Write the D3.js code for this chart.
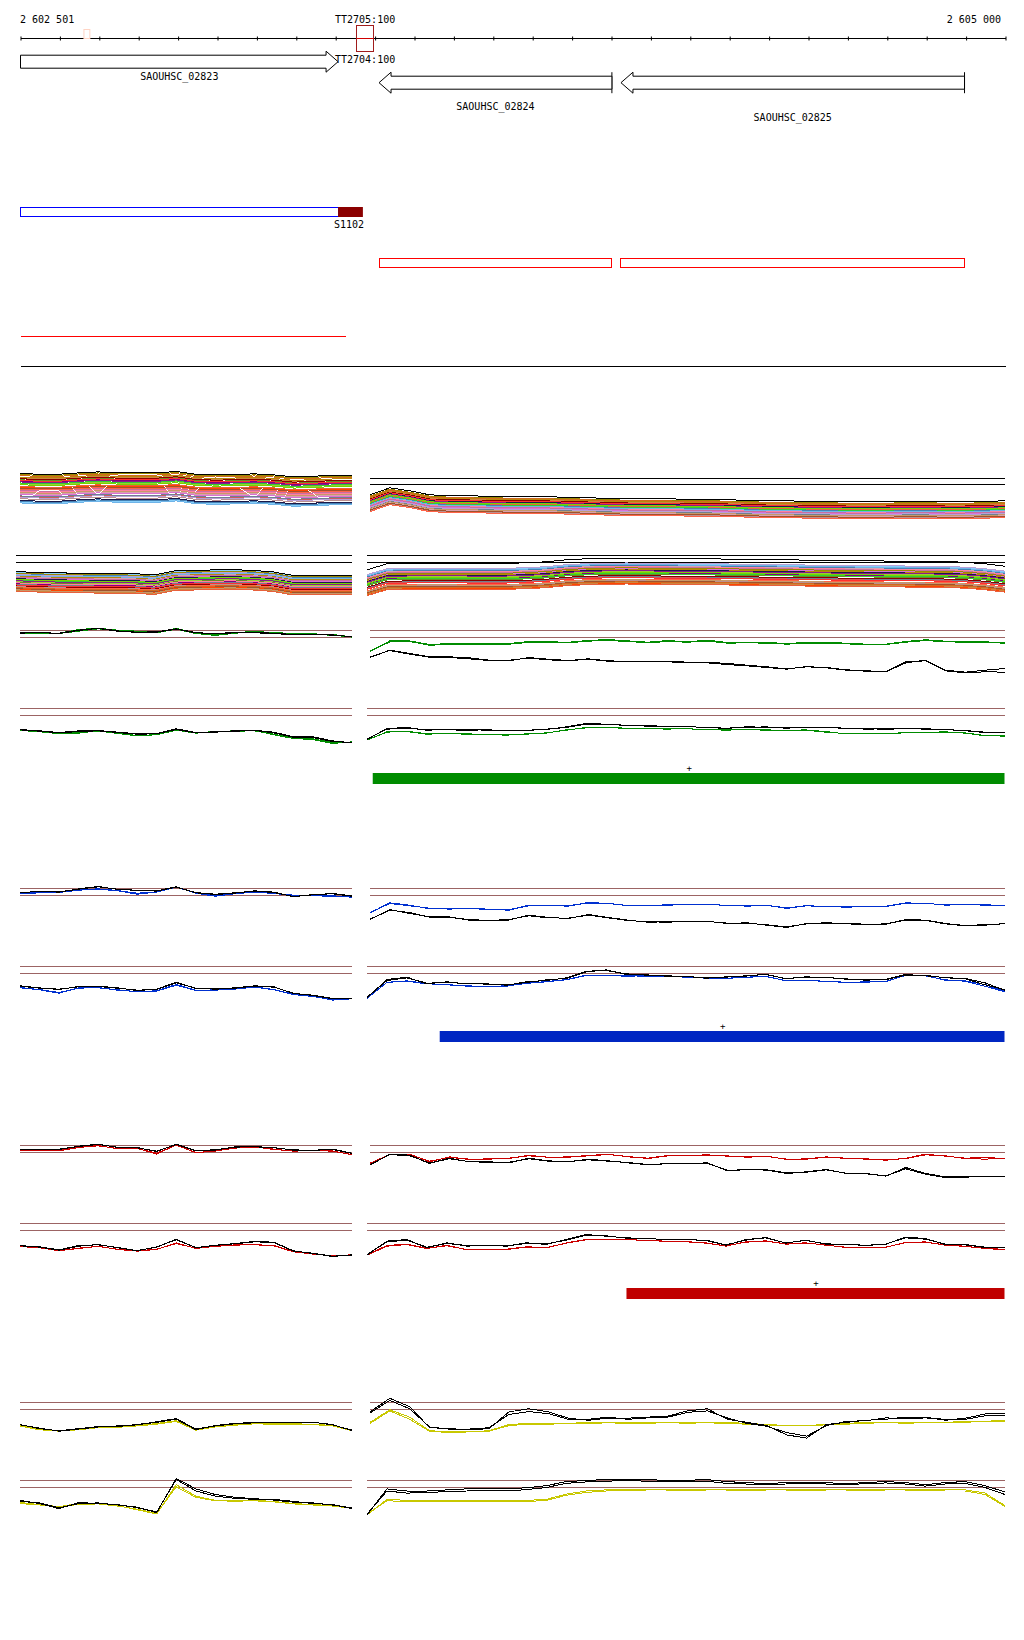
<!DOCTYPE html>
<html>
<head>
<meta charset="utf-8">
<script src="https://cdn.jsdelivr.net/npm/d3@7"></script>
<style>
  body { margin: 0; background: #fff; }
  svg text { font-family: "DejaVu Sans Mono", monospace; font-size: 10px; fill: #000; }
  path.trace, path.band, line.ref { fill: none; shape-rendering: crispEdges; }
</style>
</head>
<body>
<svg id="chart" width="1024" height="1640"></svg>
<script>
// ---- genome annotation ----
var region = [2602500, 2605000],
    regionLabels = ["2 602 501", "2 605 000"],
    geneNames = ["SAOUHSC_02823", "SAOUHSC_02824", "SAOUHSC_02825"],
    geneStart = [2602500, 2603410, 2604024],
    geneEnd = [2603306, 2604001, 2604896],
    geneStrand = ["+", "-", "-"],
    termNames = ["TT2705:100", "TT2704:100"],
    termSpan = [2603354, 2603395],
    paleSpan = [2602661, 2602676],
    utrSpan = [2602500, 2603306],
    srnaName = "S1102",
    srnaSpan = [2603306, 2603369],
    redBoxes = [[2603410, 2604001], [2604024, 2604896]],
    redLineSpan = [2602500, 2603327],
    barSpans = [[2603394, 2605000], [2603564, 2605000], [2604038, 2605000]],
    barStrand = ["+", "+", "+"];

// ---- multicolour expression bands ----
var mcColours = ["#000000","#d2691e","#9a8a00","#76d400","#ff3030","#c86ea0","#8b1a8b","#6fb4e8","#b8a0d8","#c89868",
                 "#e8603c","#a0522d","#1a1a4a","#ff7fa0","#8b0000","#b8860b","#32cd32","#da70d6","#4682b4","#cd853f",
                 "#ff6347","#9acd32","#708090","#d8a0b0","#6b8e23","#bc8f8f","#ff4500","#800080","#87cefa","#cd5c5c"];
var mcTopLeftProfile = [0.71,0.61,0.61,0.8,0.94,0.8,0.8,0.8,1.0,0.61,0.51,0.57,0.66,0.51,0.23,0.33,0.43,0.43];
var mcTopLeftOffsets = [0,-0.3,-0.15,-1.6,-1.0,-2.4,-1.2,-4.2,-3.4,-2.7,-1.85,-2.1,-3.85,-2.55,-0.75,-0.5,-1.35,-3.0,-4.0,-0.65,
                        -2.25,-1.45,-3.2,-2.85,-0.9,-3.6,-1.95,-1.1,-4.1,-3.3];
var mcTopRightProfile = [-3.53,-2.53,-2.96,-3.53,-3.67,-3.67,-3.74,-3.81,-3.81,-3.81,-3.89,-3.96,-4.03,-4.1,-4.1,-4.1,-4.17,
                         -4.17,-4.24,-4.31,-4.39,-4.39,-4.46,-4.46,-4.53,-4.53,-4.53,-4.46,-4.46,-4.53,-4.53,-4.46,-4.39];
var mcTopRightOffsets = [1.2,0.9,1.0,0.2,0.5,-0.4,0.3,-0.2,-0.6,-0.8,0.1,-1.0,0.4,-0.3,0.6,0.8,0.0,-0.5,-0.1,0.7,
                         -1.2,0.35,-0.7,-0.9,0.55,-1.1,-0.45,0.25,0.05,-0.95];
var mcBottomLeftProfile = [-3.71,-3.81,-3.89,-3.91,-3.96,-3.96,-4.0,-4.17,-3.6,-3.53,-3.46,-3.43,-3.53,-3.74,-4.24,-4.24,-4.24,-4.24];
var mcBottomLeftOffsets = [1.4,-0.9,1.2,0.3,-0.5,0.6,0.1,0.9,1.0,-1.2,-1.4,-1.0,0.4,-0.2,-0.6,0.8,0.2,0.5,1.1,-1.3,
                           -0.8,0.0,-0.4,0.7,-0.1,-0.7,-1.1,-0.3,1.3,0.65];
var mcBottomRightProfile = [-4.24,-3.39,-3.33,-3.3,-3.3,-3.33,-3.33,-3.33,-3.24,-3.1,-2.81,-2.67,-2.6,-2.57,-2.6,-2.64,-2.67,
                            -2.67,-2.71,-2.74,-2.79,-2.81,-2.86,-2.89,-2.93,-2.96,-2.99,-3.0,-3.03,-3.06,-3.17,-3.39,-3.74];
var mcBottomRightOffsets = [2.2,-1.2,0.8,0.2,-0.6,0.9,0.4,1.3,1.5,-0.9,-1.5,-1.1,0.5,1.0,-0.3,0.6,0.0,0.7,1.2,-1.3,
                            -0.8,0.3,-0.4,1.1,-0.1,-1.0,-1.4,0.1,1.4,-0.5];
var mcRefTop = [0, -0.86], refLevels = [0, -1];

// ---- paired traces: [colour rep1, colour rep2, black rep1, black rep2] ----
var greenTopLeft = [
  [-0.38,-0.43,-0.38,0.14,0.33,0.05,-0.1,-0.24,0.29,-0.38,-0.62,-0.24,-0.19,-0.24,-0.48,-0.48,-0.57,-0.9],
  [-0.43,-0.48,-0.43,-0.1,0.24,0,-0.24,-0.33,0.19,-0.43,-0.71,-0.38,-0.24,-0.43,-0.57,-0.57,-0.67,-0.95],
  [-0.33,-0.33,-0.38,0.05,0.29,-0.1,-0.24,-0.19,0.24,-0.29,-0.48,-0.33,-0.29,-0.38,-0.57,-0.57,-0.62,-0.9],
  [-0.38,-0.29,-0.43,0,0.33,-0.05,-0.29,-0.24,0.19,-0.33,-0.43,-0.29,-0.33,-0.43,-0.62,-0.52,-0.67,-0.86]];
var greenTopRight = [
  [-2.95,-1.48,-1.48,-2.0,-1.86,-1.86,-1.86,-1.86,-1.57,-1.62,-1.67,-1.43,-1.29,-1.48,-1.67,-1.43,-1.62,-1.38,-1.71,-1.67,-1.71,-1.86,-1.71,-1.71,-1.81,-1.95,-1.95,-1.57,-1.33,-1.52,-1.62,-1.62,-1.76],
  [-3.0,-1.62,-1.57,-2.1,-2.0,-2.0,-2.0,-1.95,-1.71,-1.71,-1.76,-1.52,-1.43,-1.57,-1.76,-1.57,-1.67,-1.52,-1.81,-1.76,-1.81,-1.95,-1.81,-1.81,-1.9,-2.05,-2.0,-1.67,-1.43,-1.62,-1.67,-1.71,-1.81],
  [-3.86,-2.81,-3.29,-3.76,-3.76,-3.9,-4.24,-4.33,-3.86,-4.1,-4.29,-4.05,-4.33,-4.43,-4.43,-4.43,-4.52,-4.52,-4.71,-4.95,-5.19,-5.48,-5.19,-5.29,-5.62,-5.76,-5.86,-4.48,-4.33,-5.67,-5.95,-5.67,-5.43],
  [-3.81,-2.86,-3.38,-3.81,-3.86,-4.05,-4.29,-4.24,-3.95,-4.19,-4.33,-4.1,-4.38,-4.48,-4.48,-4.48,-4.57,-4.62,-4.86,-5.05,-5.29,-5.52,-5.14,-5.33,-5.67,-5.81,-5.9,-4.62,-4.24,-5.76,-6.05,-5.9,-5.95]];
var greenBottomLeft = [
  [-3.1,-3.29,-3.62,-3.52,-3.19,-3.57,-3.9,-3.71,-3.0,-3.48,-3.29,-3.19,-3.14,-3.76,-4.29,-4.43,-5.0,-4.76],
  [-3.14,-3.33,-3.57,-3.43,-3.24,-3.52,-3.86,-3.76,-3.1,-3.52,-3.33,-3.24,-3.19,-3.67,-4.19,-4.33,-4.86,-4.81],
  [-3.0,-3.19,-3.43,-3.19,-3.14,-3.38,-3.62,-3.57,-2.9,-3.43,-3.33,-3.19,-3.1,-3.38,-4.05,-4.05,-4.62,-4.9],
  [-3.05,-3.24,-3.48,-3.29,-3.19,-3.43,-3.67,-3.62,-3.0,-3.48,-3.38,-3.24,-3.14,-3.48,-4.1,-4.14,-4.71,-4.86]];
var greenBottomRight = [
  [-4.52,-3.33,-3.29,-3.67,-3.57,-3.67,-3.76,-3.76,-3.67,-3.48,-3.1,-2.71,-2.71,-2.81,-2.86,-2.9,-2.9,-3.0,-3.1,-3.0,-3.1,-3.1,-3.1,-3.38,-3.57,-3.57,-3.57,-3.48,-3.38,-3.38,-3.48,-3.86,-3.95],
  [-4.48,-3.38,-3.24,-3.62,-3.62,-3.62,-3.71,-3.81,-3.62,-3.52,-3.05,-2.76,-2.67,-2.86,-2.81,-2.95,-2.86,-3.05,-3.05,-3.05,-3.05,-3.14,-3.05,-3.29,-3.62,-3.52,-3.62,-3.43,-3.43,-3.33,-3.52,-3.9,-3.9],
  [-4.43,-2.86,-2.71,-3.1,-3.0,-3.0,-3.1,-3.19,-3.1,-3.0,-2.62,-2.14,-2.24,-2.43,-2.48,-2.52,-2.62,-2.67,-2.86,-2.62,-2.67,-2.76,-2.76,-2.67,-2.86,-2.9,-2.95,-2.9,-2.9,-3.0,-3.19,-3.38,-3.43],
  [-4.38,-2.95,-2.81,-3.05,-3.05,-3.1,-3.05,-3.14,-3.14,-2.95,-2.71,-2.24,-2.29,-2.38,-2.52,-2.57,-2.57,-2.71,-2.81,-2.71,-2.62,-2.81,-2.71,-2.71,-2.81,-2.95,-2.9,-2.86,-2.95,-3.05,-3.1,-3.48,-3.48]];

var blueTopLeft = [
  [-0.76,-0.62,-0.57,-0.24,-0.1,-0.33,-0.81,-0.52,0.24,-0.67,-1.1,-0.76,-0.52,-0.71,-1.0,-1.05,-1.1,-1.24],
  [-0.71,-0.57,-0.52,-0.19,-0.05,-0.29,-0.67,-0.48,0.19,-0.62,-1.05,-0.71,-0.48,-0.67,-0.95,-1.0,-1.05,-1.19],
  [-0.62,-0.38,-0.52,-0.05,0.29,-0.14,-0.24,-0.38,0.19,-0.57,-0.86,-0.67,-0.33,-0.52,-1.19,-0.86,-0.76,-1.1],
  [-0.57,-0.43,-0.48,-0.1,0.24,-0.1,-0.29,-0.33,0.24,-0.62,-0.81,-0.62,-0.38,-0.57,-1.14,-0.9,-0.71,-1.05]];
var blueTopRight = [
  [-3.48,-2.05,-2.38,-2.9,-2.86,-2.86,-2.95,-3.1,-2.38,-2.43,-2.52,-2.0,-2.14,-2.43,-2.43,-2.33,-2.33,-2.24,-2.43,-2.48,-2.38,-2.86,-2.43,-2.62,-2.62,-2.62,-2.52,-2.05,-2.14,-2.33,-2.33,-2.33,-2.43],
  [-3.43,-2.14,-2.48,-2.81,-2.95,-2.81,-3.05,-3.0,-2.48,-2.48,-2.43,-2.1,-2.1,-2.48,-2.38,-2.38,-2.29,-2.33,-2.38,-2.52,-2.43,-2.76,-2.48,-2.57,-2.67,-2.57,-2.57,-2.1,-2.1,-2.38,-2.29,-2.38,-2.38],
  [-4.43,-3.0,-3.57,-4.05,-4.05,-4.52,-4.62,-4.52,-3.81,-4.14,-4.29,-3.71,-4.14,-4.52,-4.81,-4.76,-4.76,-4.67,-5.0,-4.9,-5.24,-5.57,-5.0,-4.9,-5.0,-5.1,-5.1,-4.43,-4.52,-5.0,-5.29,-5.24,-5.0],
  [-4.38,-3.1,-3.43,-4.1,-4.14,-4.43,-4.57,-4.43,-3.9,-4.19,-4.24,-3.81,-4.19,-4.57,-4.76,-4.81,-4.71,-4.71,-4.95,-4.95,-5.19,-5.48,-5.05,-4.95,-5.05,-5.14,-5.05,-4.52,-4.57,-5.05,-5.33,-5.14,-5.05]];
var blueBottomLeft = [
  [-3.05,-3.33,-3.81,-3.05,-3.05,-3.33,-3.62,-3.52,-2.67,-3.43,-3.33,-3.24,-2.95,-3.33,-4.0,-4.29,-4.76,-4.62],
  [-3.0,-3.29,-3.71,-3.1,-3.0,-3.38,-3.57,-3.48,-2.57,-3.38,-3.38,-3.19,-2.9,-3.29,-3.95,-4.24,-4.81,-4.57],
  [-2.76,-3.05,-3.29,-2.86,-2.81,-3.05,-3.43,-3.24,-2.24,-3.14,-3.19,-3.05,-2.76,-2.9,-3.86,-4.1,-4.57,-4.57],
  [-2.81,-3.1,-3.24,-2.9,-2.86,-3.1,-3.38,-3.29,-2.33,-3.1,-3.24,-3.1,-2.81,-2.95,-3.81,-4.14,-4.62,-4.52]];
var blueBottomRight = [
  [-4.57,-2.24,-2.1,-2.48,-2.57,-2.81,-2.81,-2.81,-2.38,-2.19,-1.86,-1.24,-1.33,-1.33,-1.38,-1.43,-1.52,-1.62,-1.71,-1.52,-1.43,-2.0,-2.0,-2.1,-2.29,-2.19,-2.19,-1.24,-1.33,-1.9,-2.1,-2.81,-3.62],
  [-4.52,-2.29,-2.05,-2.43,-2.62,-2.76,-2.86,-2.76,-2.43,-2.14,-1.9,-1.29,-1.29,-1.38,-1.33,-1.48,-1.48,-1.67,-1.67,-1.57,-1.38,-2.05,-1.95,-2.14,-2.24,-2.24,-2.14,-1.29,-1.29,-1.95,-2.05,-2.57,-3.57],
  [-4.48,-1.86,-1.52,-2.48,-2.19,-2.48,-2.48,-2.67,-2.19,-2.0,-1.62,-0.67,-0.57,-1.05,-1.24,-1.33,-1.43,-1.62,-1.52,-1.33,-1.14,-1.71,-1.52,-1.52,-1.81,-1.9,-1.9,-1.24,-1.24,-1.62,-1.71,-2.33,-3.43],
  [-4.38,-2.0,-1.62,-2.38,-2.29,-2.43,-2.52,-2.62,-2.29,-1.9,-1.71,-0.76,-0.48,-1.14,-1.19,-1.38,-1.38,-1.67,-1.48,-1.38,-1.1,-1.76,-1.48,-1.57,-1.76,-1.95,-1.86,-1.14,-1.33,-1.57,-1.76,-2.62,-3.33]];

var redTopLeft = [
  [-0.67,-0.62,-0.76,-0.29,0,-0.48,-0.38,-1.24,0.1,-1.05,-0.76,-0.38,-0.19,-0.57,-0.76,-0.76,-0.76,-1.33],
  [-0.62,-0.67,-0.71,-0.24,-0.05,-0.43,-0.43,-1.1,0.05,-1.0,-0.81,-0.33,-0.24,-0.52,-0.81,-0.71,-0.81,-1.29],
  [-0.57,-0.52,-0.57,-0.1,0.19,-0.29,-0.29,-0.86,0.19,-0.76,-0.67,-0.19,-0.19,-0.29,-0.67,-0.67,-0.57,-1.14],
  [-0.52,-0.57,-0.52,-0.14,0.14,-0.24,-0.33,-0.81,0.14,-0.71,-0.62,-0.24,-0.14,-0.33,-0.62,-0.71,-0.52,-1.1]];
var redTopRight = [
  [-2.57,-1.24,-1.24,-2.33,-1.62,-2.0,-1.9,-1.86,-1.38,-1.71,-1.62,-1.43,-1.24,-1.62,-1.81,-1.43,-1.43,-1.33,-1.52,-1.62,-1.52,-2.0,-1.9,-1.62,-1.86,-1.9,-2.1,-1.81,-1.24,-1.52,-1.81,-1.71,-1.86],
  [-2.52,-1.33,-1.29,-2.24,-1.71,-1.95,-1.95,-1.81,-1.48,-1.67,-1.67,-1.48,-1.29,-1.57,-1.86,-1.48,-1.38,-1.38,-1.48,-1.67,-1.57,-1.95,-1.95,-1.67,-1.81,-1.95,-2.05,-1.86,-1.33,-1.48,-1.86,-1.95,-1.81],
  [-2.81,-1.24,-1.38,-2.57,-1.81,-2.33,-2.33,-2.48,-1.81,-2.19,-2.33,-1.95,-2.19,-2.48,-2.76,-2.57,-2.57,-2.48,-3.62,-3.43,-3.52,-4.0,-3.76,-3.43,-4.0,-4.0,-4.38,-3.14,-4.0,-4.48,-4.48,-4.38,-4.48],
  [-2.76,-1.29,-1.48,-2.48,-1.9,-2.29,-2.43,-2.38,-1.9,-2.24,-2.29,-2.05,-2.24,-2.43,-2.71,-2.62,-2.52,-2.57,-3.52,-3.48,-3.48,-3.9,-3.81,-3.48,-3.95,-4.05,-4.33,-3.33,-4.1,-4.57,-4.52,-4.43,-4.43]];
var redBottomLeft = [
  [-3.29,-3.48,-3.86,-3.57,-3.24,-3.71,-3.95,-3.71,-2.76,-3.57,-3.24,-3.1,-3.0,-3.19,-4.05,-4.33,-4.62,-4.52],
  [-3.24,-3.43,-3.9,-3.52,-3.29,-3.67,-3.9,-3.67,-2.86,-3.52,-3.29,-3.05,-3.05,-3.14,-4.0,-4.38,-4.57,-4.48],
  [-3.14,-3.38,-3.81,-3.24,-3.0,-3.48,-3.86,-3.38,-2.24,-3.48,-3.1,-2.9,-2.62,-2.71,-3.95,-4.24,-4.67,-4.52],
  [-3.19,-3.33,-3.76,-3.14,-3.05,-3.43,-3.9,-3.33,-2.33,-3.43,-3.14,-2.86,-2.57,-2.67,-3.9,-4.29,-4.71,-4.48]];
var redBottomRight = [
  [-4.52,-3.24,-3.0,-3.57,-3.1,-3.76,-3.71,-3.71,-3.38,-3.48,-2.76,-2.29,-2.29,-2.29,-2.43,-2.52,-2.62,-2.76,-3.24,-2.62,-2.52,-2.9,-2.76,-3.1,-3.38,-3.48,-3.38,-2.76,-2.62,-3.1,-3.24,-3.57,-3.76],
  [-4.48,-3.14,-2.95,-3.52,-3.19,-3.71,-3.76,-3.67,-3.33,-3.43,-2.81,-2.33,-2.24,-2.33,-2.38,-2.57,-2.57,-2.81,-3.19,-2.67,-2.48,-2.95,-2.81,-3.05,-3.43,-3.43,-3.43,-2.71,-2.67,-3.05,-3.29,-3.52,-3.71],
  [-4.52,-2.52,-2.29,-3.48,-2.76,-3.24,-3.1,-3.24,-2.76,-3.0,-2.29,-1.57,-1.81,-2.05,-2.14,-2.29,-2.29,-2.43,-3.1,-2.29,-2.05,-2.76,-2.43,-2.9,-3.0,-3.1,-3.0,-1.95,-2.14,-3.0,-3.0,-3.38,-3.48],
  [-4.43,-2.62,-2.38,-3.38,-2.86,-3.14,-3.14,-3.19,-2.86,-2.9,-2.38,-1.67,-1.76,-2.1,-2.19,-2.24,-2.33,-2.38,-3.05,-2.38,-2.0,-2.81,-2.38,-2.95,-2.95,-3.14,-2.95,-2.05,-2.24,-2.95,-3.05,-3.43,-3.43]];

var yellowTopLeft = [
  [-3.29,-3.84,-4.1,-3.84,-3.55,-3.5,-3.29,-3.0,-2.6,-3.9,-3.44,-3.2,-3.0,-3.0,-3.05,-3.1,-3.29,-4.0],
  [-3.35,-3.9,-4.05,-3.9,-3.6,-3.55,-3.35,-3.1,-2.7,-3.95,-3.5,-3.25,-3.05,-3.1,-3.1,-3.15,-3.35,-4.05],
  [-3.14,-3.74,-4.03,-3.74,-3.44,-3.44,-3.14,-2.84,-2.39,-3.89,-3.29,-2.99,-2.84,-2.84,-2.84,-2.84,-3.14,-4.03],
  [-3.2,-3.65,-4.1,-3.8,-3.5,-3.35,-3.2,-2.75,-2.3,-3.8,-3.35,-3.05,-2.9,-2.8,-2.9,-2.8,-3.2,-3.95]];
var yellowTopRight = [
  [-2.84,-1.04,-2.09,-4.03,-4.19,-4.19,-4.03,-3.14,-2.99,-2.99,-2.99,-2.84,-2.84,-2.84,-2.84,-2.84,-2.84,-2.84,-2.84,-2.99,-3.14,-3.29,-3.29,-3.14,-2.99,-2.84,-2.84,-2.84,-2.84,-2.84,-2.69,-2.69,-2.54],
  [-2.99,-1.2,-2.4,-4.1,-4.3,-4.2,-4.1,-3.3,-3.1,-3.1,-3.0,-2.99,-2.9,-2.99,-2.95,-2.9,-2.95,-2.9,-2.99,-3.1,-3.2,-3.35,-3.3,-3.2,-3.1,-2.95,-2.9,-2.95,-2.9,-2.9,-2.8,-2.75,-2.7],
  [-1.34,0.6,-0.6,-3.59,-3.74,-3.89,-3.74,-1.34,-0.9,-1.34,-2.24,-2.54,-2.24,-2.24,-2.09,-1.94,-1.2,-0.9,-2.39,-2.84,-3.29,-4.63,-5.09,-3.14,-2.84,-2.54,-2.39,-2.09,-2.09,-2.54,-2.24,-1.64,-1.64],
  [-1.5,0.3,-0.9,-3.5,-3.8,-3.8,-3.6,-1.7,-1.3,-1.6,-2.4,-2.4,-2.1,-2.4,-2.2,-2.1,-1.4,-1.2,-2.2,-3.0,-3.4,-4.3,-4.8,-3.3,-2.7,-2.6,-2.2,-2.3,-2.2,-2.4,-2.4,-1.9,-1.8]];
var yellowBottomLeft = [
  [-3.14,-3.44,-3.74,-3.29,-3.29,-3.59,-4.19,-4.78,-0.6,-2.24,-2.84,-2.84,-2.84,-2.99,-3.29,-3.44,-3.59,-3.89],
  [-3.3,-3.5,-3.8,-3.4,-3.35,-3.65,-4.1,-4.7,-0.9,-2.4,-2.9,-2.95,-2.9,-3.05,-3.35,-3.5,-3.65,-3.95],
  [-2.84,-3.29,-4.03,-3.14,-3.29,-3.44,-3.89,-4.48,0.15,-1.49,-2.24,-2.54,-2.69,-2.69,-2.99,-3.29,-3.44,-4.03],
  [-2.99,-3.2,-3.9,-3.3,-3.2,-3.5,-3.8,-4.6,0.3,-1.2,-2.0,-2.4,-2.6,-2.8,-3.1,-3.2,-3.5,-3.9]];
var yellowBottomRight = [
  [-4.93,-2.69,-2.84,-2.84,-2.84,-2.84,-2.84,-2.84,-2.84,-2.69,-1.94,-1.5,-1.34,-1.34,-1.34,-1.34,-1.34,-1.34,-1.34,-1.34,-1.34,-1.34,-1.34,-1.34,-1.34,-1.34,-1.34,-1.34,-1.34,-1.34,-1.34,-1.79,-3.59],
  [-4.8,-2.9,-3.0,-3.0,-3.0,-3.0,-2.95,-3.0,-3.0,-2.85,-2.1,-1.7,-1.5,-1.45,-1.5,-1.5,-1.45,-1.5,-1.5,-1.45,-1.5,-1.5,-1.45,-1.5,-1.5,-1.45,-1.5,-1.5,-1.45,-1.5,-1.5,-2.0,-3.7],
  [-4.93,-1.2,-1.5,-1.5,-1.34,-1.2,-1.2,-1.2,-1.04,-0.74,-0.15,0,0.15,0.15,0.15,0,0,0.15,-0.15,-0.3,-0.45,-0.3,-0.3,-0.3,-0.45,-0.3,-0.15,-0.3,-0.6,-0.3,-0.15,-0.74,-1.64],
  [-4.8,-1.5,-1.8,-1.7,-1.6,-1.5,-1.4,-1.5,-1.3,-1.0,-0.4,-0.2,-0.1,0.0,-0.1,-0.2,-0.2,-0.1,-0.4,-0.5,-0.6,-0.5,-0.45,-0.5,-0.6,-0.45,-0.35,-0.5,-0.8,-0.5,-0.4,-1.0,-2.0]];

// ---- layout ----
var svg = d3.select("#chart"),
    x = d3.scaleLinear().domain(region).range([20.5, 1005.5]),
    brown = "#9c6464",
    colLeft = [20, 352], colLeftB = [16, 352], colRight1 = [370, 1005], colRight2 = [367, 1005];

// ruler
svg.append("g")
  .attr("transform", "translate(0,36.5)")
  .call(d3.axisBottom(x).tickValues(d3.range(region[0], region[1] + 1, 100)).tickSize(4).tickSizeOuter(0).tickFormat(""))
  .call(function(g) { g.select(".domain").remove(); g.selectAll("line").attr("stroke", "#000"); });
svg.append("line").attr("x1", x(region[0])).attr("x2", x(region[1])).attr("y1", 38.5).attr("y2", 38.5)
  .attr("stroke", "#000").attr("shape-rendering", "crispEdges");
svg.append("text").attr("x", 20).attr("y", 22.5).text(regionLabels[0]);
svg.append("text").attr("x", 1001).attr("y", 22.5).attr("text-anchor", "end").text(regionLabels[1]);

svg.append("rect").attr("x", x(paleSpan[0])).attr("y", 29.5).attr("width", x(paleSpan[1]) - x(paleSpan[0])).attr("height", 9)
  .attr("fill", "none").attr("stroke", "#ffd4c4");
svg.append("line").attr("x1", x(termSpan[0])).attr("x2", x(termSpan[1])).attr("y1", 38.5).attr("y2", 38.5)
  .attr("stroke", "#d00000").attr("shape-rendering", "crispEdges");
svg.append("rect").attr("x", x(termSpan[0])).attr("y", 25.5).attr("width", x(termSpan[1]) - x(termSpan[0])).attr("height", 26)
  .attr("fill", "none").attr("stroke", "#a01c1c").attr("shape-rendering", "crispEdges");
svg.append("text").attr("x", 335).attr("y", 22.5).text(termNames[0]);
svg.append("text").attr("x", 335).attr("y", 62.7).text(termNames[1]);

// genes
var geneRowY = [61.7, 82.7], geneLabelY = [79.5, 110, 121];
geneNames.forEach(function(name, i) {
  var x0 = x(geneStart[i]), x1 = x(geneEnd[i]), yc = geneStrand[i] === "+" ? geneRowY[0] : geneRowY[1],
      b = 6.5, h = 10.5, head = 12, p;
  if (geneStrand[i] === "+") {
    p = "M" + x0 + "," + (yc - b) + "H" + (x1 - head) + "V" + (yc - h) + "L" + x1 + "," + yc +
        "L" + (x1 - head) + "," + (yc + h) + "V" + (yc + b) + "H" + x0 + "Z";
  } else {
    p = "M" + x0 + "," + yc + "L" + (x0 + head) + "," + (yc - h) + "V" + (yc - b) + "H" + x1 +
        "V" + (yc + b) + "H" + (x0 + head) + "V" + (yc + h) + "Z";
    svg.append("line").attr("x1", x1).attr("x2", x1).attr("y1", yc - h).attr("y2", yc + h).attr("stroke", "#000");
  }
  svg.append("path").attr("d", p).attr("fill", "#fff").attr("stroke", "#000");
  svg.append("text").attr("x", (x0 + x1) / 2).attr("y", geneLabelY[i]).attr("text-anchor", "middle").text(name);
});

// transcript / sRNA tracks
svg.append("rect").attr("x", x(utrSpan[0])).attr("y", 207.5).attr("width", x(utrSpan[1]) - x(utrSpan[0])).attr("height", 9)
  .attr("fill", "#fff").attr("stroke", "#0000ff").attr("shape-rendering", "crispEdges");
svg.append("rect").attr("x", x(srnaSpan[0])).attr("y", 207).attr("width", x(srnaSpan[1]) - x(srnaSpan[0])).attr("height", 10)
  .attr("fill", "#8b0000");
svg.append("text").attr("x", 334).attr("y", 227.7).text(srnaName);
redBoxes.forEach(function(s) {
  svg.append("rect").attr("x", x(s[0])).attr("y", 258.5).attr("width", x(s[1]) - x(s[0])).attr("height", 9)
    .attr("fill", "none").attr("stroke", "#ff0000").attr("shape-rendering", "crispEdges");
});
svg.append("line").attr("x1", x(redLineSpan[0])).attr("x2", x(redLineSpan[1])).attr("y1", 336.5).attr("y2", 336.5)
  .attr("stroke", "#ff0000").attr("shape-rendering", "crispEdges");
svg.append("line").attr("x1", x(region[0])).attr("x2", x(region[1])).attr("y1", 366.5).attr("y2", 366.5)
  .attr("stroke", "#000").attr("shape-rendering", "crispEdges");

// helpers
function refLines(levels, colour, cols, yTop) {
  var ys = d3.scaleLinear().domain([0, -1]).range([yTop, yTop + 7]);
  levels.forEach(function(v) {
    svg.append("line").attr("class", "ref").attr("x1", cols[0]).attr("x2", cols[1])
      .attr("y1", ys(v)).attr("y2", ys(v)).attr("stroke", colour);
  });
}

function band(profile, offsets, cols, yTop) {
  var xs = d3.scaleLinear().domain([0, profile.length - 1]).range(cols),
      ys = d3.scaleLinear().domain([0, -1]).range([yTop, yTop + 7]),
      line = d3.line().x(function(d, i) { return xs(i); }).y(ys);
  d3.range(offsets.length - 1, -1, -1).forEach(function(k) {
    svg.append("path").attr("class", "band")
      .attr("d", line(profile.map(function(v) { return v + offsets[k]; })))
      .attr("stroke", mcColours[k]).attr("stroke-width", 1);
  });
}

function traces(series, colour, cols, yTop) {
  var xs = d3.scaleLinear().domain([0, series[0].length - 1]).range(cols),
      ys = d3.scaleLinear().domain([0, -1]).range([yTop, yTop + 7]),
      line = d3.line().x(function(d, i) { return xs(i); }).y(ys);
  refLines(refLevels, brown, cols, yTop);
  series.forEach(function(s, k) {
    svg.append("path").attr("class", "trace").attr("d", line(s))
      .attr("stroke", k < 2 ? colour : "#000").attr("stroke-width", 1);
  });
}

// multicolour rows
refLines(mcRefTop, "#000", colRight1, 478.5);
band(mcTopLeftProfile, mcTopLeftOffsets, colLeft, 478.5);
band(mcTopRightProfile, mcTopRightOffsets, colRight1, 478.5);
refLines(refLevels, "#000", colLeftB, 555.5);
refLines(refLevels, "#000", colRight2, 555.5);
band(mcBottomLeftProfile, mcBottomLeftOffsets, colLeftB, 555.5);
band(mcBottomRightProfile, mcBottomRightOffsets, colRight2, 555.5);

// paired trace groups
var groups = [
  { colour: "#008c00", bar: "#008c00", top: 630.5, panels: [greenTopLeft, greenTopRight, greenBottomLeft, greenBottomRight], span: 0 },
  { colour: "#0030d0", bar: "#0026c2", top: 888.5, panels: [blueTopLeft, blueTopRight, blueBottomLeft, blueBottomRight], span: 1 },
  { colour: "#cc0000", bar: "#c00000", top: 1145.5, panels: [redTopLeft, redTopRight, redBottomLeft, redBottomRight], span: 2 },
  { colour: "#c8c800", bar: null, top: 1402.5, panels: [yellowTopLeft, yellowTopRight, yellowBottomLeft, yellowBottomRight], span: -1 }
];
groups.forEach(function(g) {
  traces(g.panels[0], g.colour, colLeft, g.top);
  traces(g.panels[1], g.colour, colRight1, g.top);
  traces(g.panels[2], g.colour, colLeft, g.top + 78);
  traces(g.panels[3], g.colour, colRight2, g.top + 78);
  if (g.bar) {
    var s = barSpans[g.span], by = g.top + 142.5;
    svg.append("rect").attr("x", x(s[0])).attr("y", by).attr("width", x(s[1]) - x(s[0]) - 1).attr("height", 11)
      .attr("fill", g.bar);
    svg.append("text").attr("x", (x(s[0]) + x(s[1])) / 2).attr("y", by - 2.5).attr("text-anchor", "middle")
      .style("font-size", "9px").text(barStrand[g.span]);
  }
});
</script>
</body>
</html>
